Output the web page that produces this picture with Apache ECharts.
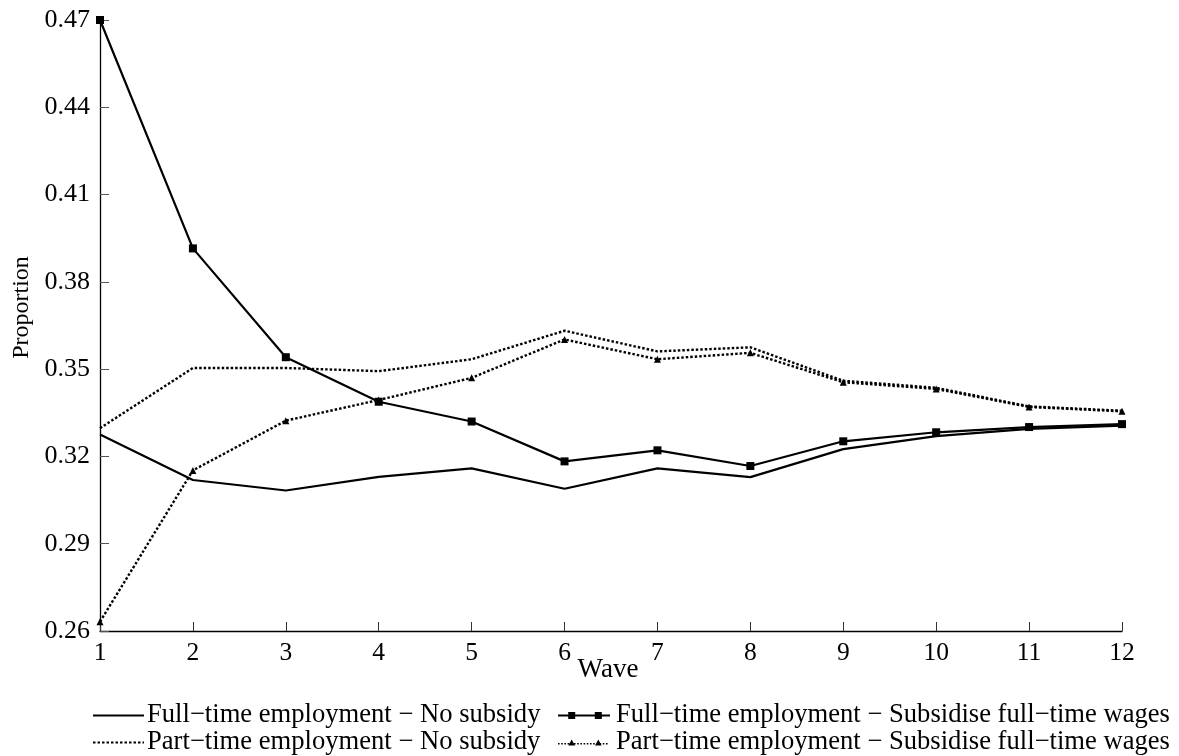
<!DOCTYPE html>
<html>
<head>
<meta charset="utf-8">
<script src="https://cdn.jsdelivr.net/npm/echarts@6/dist/echarts.min.js"></script>
<style>
html,body{margin:0;padding:0;background:#fff;}
#chart{width:1179px;height:756px;}
</style>
</head>
<body>
<div id="chart"></div>
<script>
const waves = [1,2,3,4,5,6,7,8,9,10,11,12];
const yTicks = [0.26,0.29,0.32,0.35,0.38,0.41,0.44,0.47];
const seriesNames = [
  'Full\u2212time employment \u2212 No subsidy',
  'Full\u2212time employment \u2212 Subsidise full\u2212time wages',
  'Part\u2212time employment \u2212 No subsidy',
  'Part\u2212time employment \u2212 Subsidise full\u2212time wages'
];
const ftNoSubsidy = [0.3275,0.3119,0.3083,0.3130,0.3159,0.3089,0.3159,0.3129,0.3225,0.3270,0.3295,0.3306];
const ftSubsidy   = [0.4700,0.3915,0.3541,0.3388,0.3320,0.3183,0.3221,0.3167,0.3252,0.3283,0.3301,0.3311];
const ptNoSubsidy = [0.3297,0.3504,0.3504,0.3493,0.3534,0.3632,0.3561,0.3575,0.3460,0.3436,0.3372,0.3357];
const ptSubsidy   = [0.2632,0.3152,0.3323,0.3394,0.3470,0.3602,0.3534,0.3556,0.3455,0.3432,0.3370,0.3355];

const font = 'Liberation Serif';
const chart = echarts.init(document.getElementById('chart'));
const pairs = d => waves.map((w,i)=>[w,d[i]]);
const dotted = [2.5,2];

// legend glyphs (52 x 7 box): line with two markers, as in the reference key
function squareKey(){
  let p = 'M0 2.6 H52 V4.4 H0 Z ';
  [13.7,40.3].forEach(c=>{ p += `M${c-3.5} 0 H${c+3.5} V7 H${c-3.5} Z `; });
  return 'path://' + p;
}
function triangleKey(){
  let p = '';
  for(let x=0;x<=50.4;x+=3.2){ p += `M${x} 3.9 H${x+1.6} V5.6 H${x} Z `; }
  [13.7,40.3].forEach(c=>{ p += `M${c-3.3} 6.4 L${c} 0.6 L${c+3.3} 6.4 Z `; });
  p += 'M0 0 H0.01 V0.01 H0 Z M51.99 6.99 H52 V7 H51.99 Z';
  return 'path://' + p;
}
const legendText = {fontFamily:font,fontSize:26.6,color:'#000',lineHeight:27};
chart.setOption({
  animation:false,
  backgroundColor:'#fff',
  grid:{left:100,right:57,top:20,bottom:125,outerBoundsMode:'none',containLabel:false},
  xAxis:{
    type:'value',min:1,max:12,interval:1,
    name:'Wave',nameLocation:'middle',nameGap:25,nameMoveOverlap:false,
    nameTextStyle:{fontFamily:font,fontSize:27,color:'#000',padding:[0,6,0,0]},
    axisLine:{lineStyle:{color:'#000',width:1.3}},
    axisTick:{inside:true,length:9,lineStyle:{color:'#333',width:1}},
    axisLabel:{fontFamily:font,fontSize:25.5,color:'#000',margin:9},
    splitLine:{show:false}
  },
  yAxis:{
    type:'value',min:yTicks[0],max:yTicks[yTicks.length-1],interval:0.03,
    name:'Proportion',nameLocation:'middle',nameGap:66,nameMoveOverlap:false,
    nameTextStyle:{fontFamily:font,fontSize:24,color:'#000',padding:[0,0,0,36]},
    axisLine:{show:true,lineStyle:{color:'#000',width:1.3}},
    axisTick:{show:true,inside:true,length:9,lineStyle:{color:'#555',width:1}},
    axisLabel:{fontFamily:font,fontSize:26,color:'#000',margin:10,formatter:v=>v.toFixed(2)},
    splitLine:{show:false}
  },
  legend:[{
    data:[{name:seriesNames[0],itemStyle:{opacity:0}},{name:seriesNames[2],itemStyle:{opacity:0}}],
    orient:'vertical',left:92,top:702,height:60,padding:0,itemWidth:51,itemHeight:10,itemGap:0,
    textStyle:Object.assign({},legendText,{padding:[0,0,0,-2]})
  },{
    data:[{name:seriesNames[1],icon:squareKey()},{name:seriesNames[3],icon:triangleKey()}],
    orient:'vertical',left:558,top:702,height:60,padding:0,itemWidth:52,itemHeight:7,itemGap:0,
    textStyle:Object.assign({},legendText,{padding:[0,0,0,1]})
  }],
  series:[
    {name:seriesNames[0],type:'line',data:pairs(ftNoSubsidy),symbol:'none',
     lineStyle:{color:'#000',width:2.2,type:'solid'},itemStyle:{color:'#000'}},
    {name:seriesNames[1],type:'line',data:pairs(ftSubsidy),symbol:'rect',symbolSize:8,
     lineStyle:{color:'#000',width:2.2,type:'solid'},itemStyle:{color:'#000'}},
    {name:seriesNames[2],type:'line',data:pairs(ptNoSubsidy),symbol:'none',
     lineStyle:{color:'#000',width:2.4,type:dotted},itemStyle:{color:'#000'}},
    {name:seriesNames[3],type:'line',data:pairs(ptSubsidy),symbol:'triangle',symbolSize:7,
     lineStyle:{color:'#000',width:2.4,type:dotted},itemStyle:{color:'#000'}}
  ]
});
</script>
</body>
</html>
